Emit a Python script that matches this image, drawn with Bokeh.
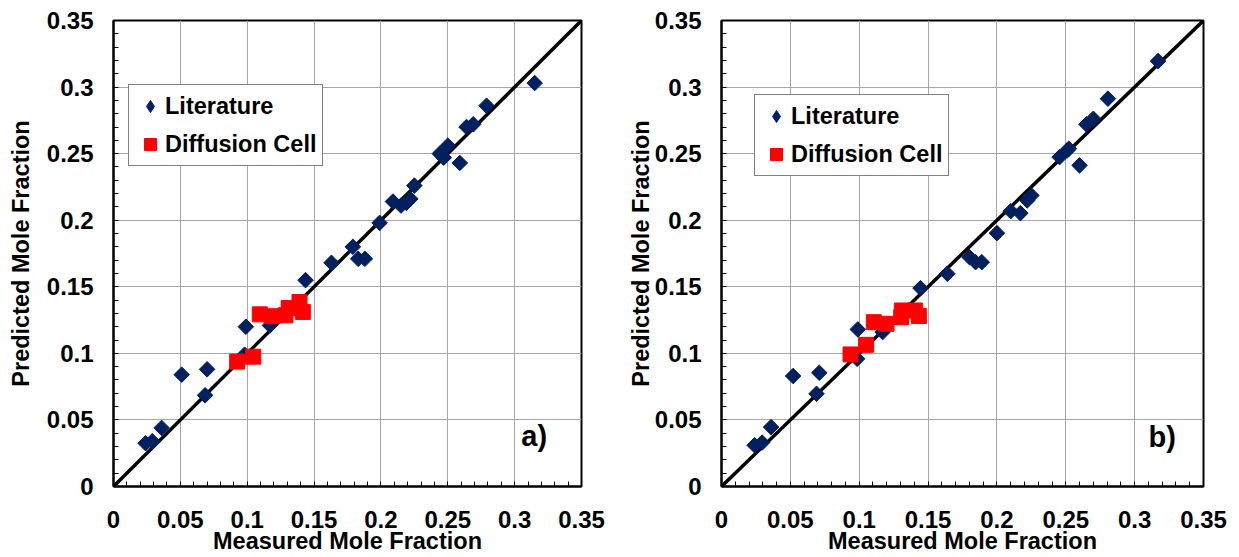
import math
from bokeh.plotting import figure
from bokeh.layouts import row
from bokeh.models import Range1d, FixedTicker, Legend, LegendItem, Label
from bokeh.embed import file_html
from bokeh.resources import INLINE

# ---------------- data ----------------
lit_a_x = [0.024, 0.029, 0.036, 0.051, 0.0685, 0.070, 0.098, 0.099, 0.117, 0.1436, 0.163, 0.179, 0.183, 0.188,
           0.199, 0.209, 0.215, 0.219, 0.222, 0.225, 0.244, 0.247, 0.250, 0.259, 0.264, 0.269, 0.279, 0.315]
lit_a_y = [0.0325, 0.034, 0.044, 0.084, 0.0685, 0.088, 0.099, 0.120, 0.121, 0.155, 0.168, 0.180, 0.171, 0.171,
           0.198, 0.214, 0.211, 0.213, 0.216, 0.226, 0.250, 0.247, 0.256, 0.243, 0.270, 0.272, 0.286, 0.303]
cell_a_x = [0.0925, 0.1045, 0.1094, 0.1187, 0.1286, 0.131, 0.1391, 0.1416]
cell_a_y = [0.0938, 0.0975, 0.1293, 0.1279, 0.1286, 0.134, 0.1386, 0.1311]

lit_b_x = [0.024, 0.0295, 0.036, 0.052, 0.069, 0.071, 0.0985, 0.099, 0.117, 0.1445, 0.164, 0.180, 0.1845, 0.189,
           0.200, 0.210, 0.217, 0.222, 0.225, 0.2455, 0.251, 0.2522, 0.260, 0.265, 0.270, 0.2806, 0.317]
lit_b_y = [0.031, 0.033, 0.0446, 0.083, 0.0696, 0.0854, 0.0959, 0.118, 0.116, 0.149, 0.1598, 0.1723, 0.1685, 0.1685,
           0.1903, 0.2068, 0.2053, 0.2149, 0.2186, 0.2474, 0.2524, 0.2537, 0.2412, 0.272, 0.2762, 0.2913, 0.3195]
cell_b_x = [0.0937, 0.105, 0.1106, 0.1198, 0.1305, 0.131, 0.1404, 0.1433]
cell_b_y = [0.0992, 0.1064, 0.1234, 0.1222, 0.1272, 0.1322, 0.1322, 0.128]

parity_line = [0.0, 0.35]
major_ticks = [0, 0.05, 0.1, 0.15, 0.2, 0.25, 0.3, 0.35]
tick_labels = ["0", "0.05", "0.1", "0.15", "0.2", "0.25", "0.3", "0.35"]
minor_ticks = [i / 100 for i in range(0, 36)]

series_names = ["Literature", "Diffusion Cell"]
panel_tags = ["a)", "b)"]

FONT = "Liberation Sans"
NAVY = "#002060"
RED = "#FF0000"


def make_panel(lx, ly, cx, cy, tag, width, height, bl, br, bt, bb, ylab_standoff, legend_loc, tag_pos):
    p = figure(width=width, height=height, output_backend="svg", toolbar_location=None,
               x_range=Range1d(0, 0.35), y_range=Range1d(0, 0.35),
               min_border_left=bl, min_border_right=br, min_border_top=bt, min_border_bottom=bb,
               background_fill_color="white", border_fill_color="white")
    p.outline_line_color = "black"
    p.outline_line_width = 2
    for ax in (p.xaxis[0], p.yaxis[0]):
        ax.ticker = FixedTicker(ticks=major_ticks, minor_ticks=minor_ticks)
        ax.major_label_overrides = {t: s for t, s in zip(major_ticks, tick_labels)}
        ax.major_label_text_font = FONT
        ax.major_label_text_font_style = "bold"
        ax.major_label_text_font_size = "24px"
        ax.major_label_text_color = "black"
        ax.axis_label_text_font = FONT
        ax.axis_label_text_font_style = "bold"
        ax.axis_label_text_font_size = "23.5px"
        ax.axis_label_text_color = "black"
        ax.axis_line_color = "black"
        ax.axis_line_width = 2
        ax.major_tick_in = 0
        ax.major_tick_out = 0
        ax.minor_tick_in = 5
        ax.minor_tick_out = 0
        ax.minor_tick_line_color = "black"
        ax.minor_tick_line_width = 1
    p.xaxis.axis_label = "Measured Mole Fraction"
    p.yaxis.axis_label = "Predicted Mole Fraction"
    p.xaxis.major_label_standoff = 24
    p.xaxis.axis_label_standoff = -3
    p.yaxis.major_label_standoff = 20
    p.yaxis.axis_label_standoff = ylab_standoff
    p.xgrid.ticker = FixedTicker(ticks=major_ticks)
    p.ygrid.ticker = FixedTicker(ticks=major_ticks)
    p.grid.grid_line_color = "#a6a6a6"
    p.grid.grid_line_width = 1

    p.line(parity_line, parity_line, line_color="black", line_width=3.5)
    p.scatter(lx, ly, marker="square", angle=math.pi / 4, size=11, color=NAVY)
    r_lit = p.scatter(lx, ly, marker="diamond", size=13, color=NAVY)
    r_cell = p.scatter(cx, cy, marker="square", size=15, color=RED)

    legend = Legend(items=[LegendItem(label=series_names[0], renderers=[r_lit]),
                           LegendItem(label=series_names[1], renderers=[r_cell])],
                    location=legend_loc)
    legend.label_text_font = FONT
    legend.label_text_font_style = "bold"
    legend.label_text_font_size = "23.5px"
    legend.label_text_color = "black"
    legend.glyph_width = 30
    legend.glyph_height = 30
    legend.label_standoff = 0
    legend.padding = 6
    legend.spacing = 8
    legend.margin = 0
    legend.border_line_color = "black"
    legend.border_line_width = 1.5
    legend.background_fill_alpha = 1
    p.add_layout(legend, "center")

    p.add_layout(Label(x=tag_pos[0], y=tag_pos[1], text=tag, text_font=FONT, text_font_style="bold",
                       text_font_size="29px", text_color="black", text_baseline="middle", text_align="left"))
    return p


p1 = make_panel(lit_a_x, lit_a_y, cell_a_x, cell_a_y, panel_tags[0], 620, 557, 113, 39, 20, 68, 10,
                (15, 320), (0.305, 0.038))
p2 = make_panel(lit_b_x, lit_b_y, cell_b_x, cell_b_y, panel_tags[1], 619, 557, 101, 36, 20, 71, -2,
                (33, 310), (0.310, 0.037))

layout = row(p1, p2, spacing=0)
open("out.html", "w").write(file_html(layout, INLINE))
